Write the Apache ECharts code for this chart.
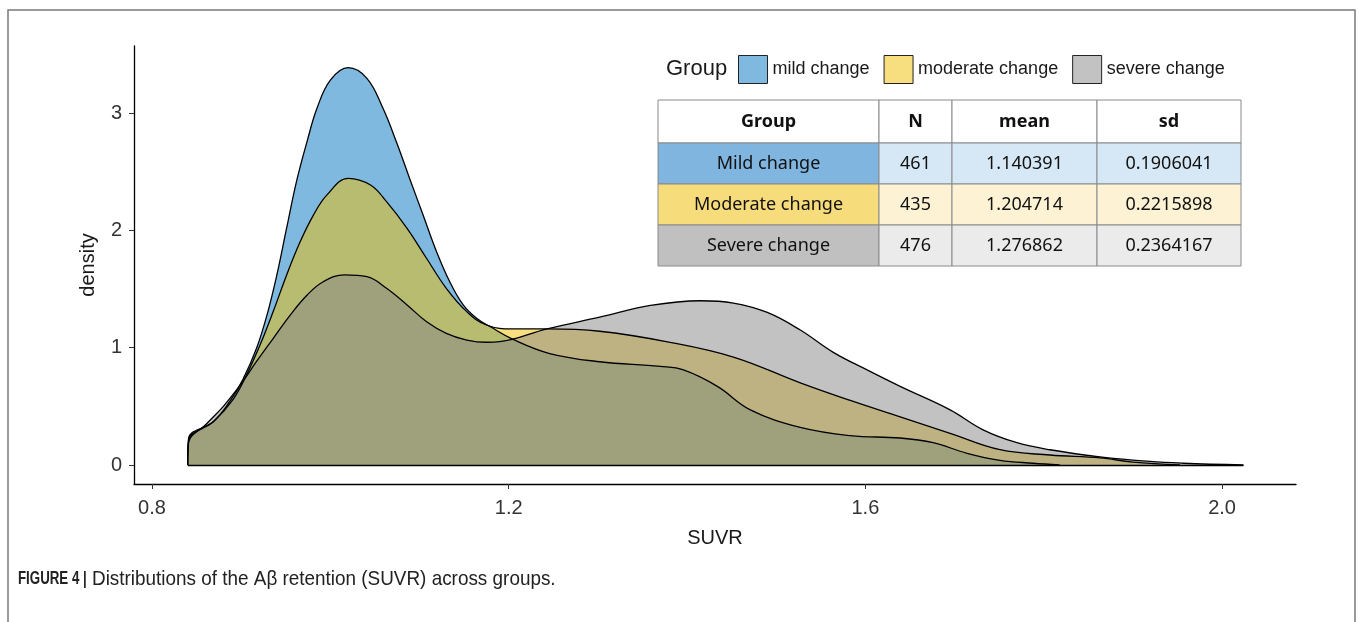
<!DOCTYPE html>
<html>
<head>
    <meta charset="utf-8">
    <title>SUVR density</title>
    <script src="https://cdn.jsdelivr.net/npm/echarts@6/dist/echarts.min.js"></script>
    <style>
        html, body { margin: 0; padding: 0; background: #fff; }
        #main { width: 1360px; height: 622px; }
    </style>
</head>
<body>
<div id="main"></div>
<script>
    // density curves (SUVR, density)
    var mildSuvr = [0.840, 0.841, 0.869, 0.888, 0.902, 0.917, 0.929, 0.940, 0.951, 0.962, 0.974, 0.985, 1.000, 1.020, 1.041, 1.059, 1.074, 1.089, 1.104, 1.119, 1.134, 1.149, 1.164, 1.179, 1.205, 1.246, 1.302, 1.370, 1.396, 1.434, 1.471, 1.527, 1.583, 1.639, 1.676, 1.714, 1.751, 1.788, 1.818];
    var mildDensity = [0, 0.227, 0.37, 0.55, 0.73, 0.99, 1.28, 1.62, 2.02, 2.415, 2.76, 3.04, 3.28, 3.386, 3.295, 3.04, 2.755, 2.44, 2.13, 1.82, 1.56, 1.364, 1.25, 1.18, 1.07, 0.95, 0.88, 0.84, 0.81, 0.67, 0.47, 0.32, 0.25, 0.23, 0.19, 0.10, 0.04, 0.015, 0];

    var modSuvr = [0.840, 0.841, 0.869, 0.891, 0.906, 0.921, 0.936, 0.951, 0.966, 0.981, 0.996, 1.020, 1.045, 1.063, 1.086, 1.108, 1.130, 1.153, 1.175, 1.205, 1.243, 1.302, 1.378, 1.452, 1.527, 1.583, 1.639, 1.695, 1.751, 1.807, 1.863, 1.900, 1.953];
    var modDensity = [0, 0.21, 0.37, 0.56, 0.767, 1.02, 1.31, 1.62, 1.90, 2.13, 2.30, 2.443, 2.386, 2.244, 2.017, 1.76, 1.506, 1.307, 1.193, 1.16, 1.16, 1.14, 1.05, 0.92, 0.70, 0.55, 0.41, 0.27, 0.13, 0.085, 0.06, 0.025, 0];

    var sevSuvr = [0.840, 0.841, 0.861, 0.880, 0.899, 0.917, 0.936, 0.955, 0.974, 0.992, 1.016, 1.041, 1.063, 1.086, 1.108, 1.130, 1.153, 1.175, 1.190, 1.243, 1.302, 1.359, 1.415, 1.452, 1.490, 1.527, 1.564, 1.602, 1.639, 1.695, 1.732, 1.770, 1.807, 1.863, 1.919, 1.956, 2.024];
    var sevDensity = [0, 0.19, 0.35, 0.50, 0.682, 0.88, 1.08, 1.278, 1.449, 1.562, 1.62, 1.605, 1.506, 1.364, 1.221, 1.122, 1.065, 1.046, 1.051, 1.16, 1.26, 1.36, 1.40, 1.38, 1.30, 1.15, 0.96, 0.81, 0.67, 0.47, 0.30, 0.19, 0.13, 0.07, 0.03, 0.015, 0];

    var groupNames = ['mild change', 'moderate change', 'severe change'];
    var xTicks = [0.8, 1.2, 1.6, 2.0];
    var yTicks = [0, 1, 2, 3];

    // summary table
    var tableHeader = ['Group', 'N', 'mean', 'sd'];
    var tableGroups = ['Mild change', 'Moderate change', 'Severe change'];
    var tableN = ['461', '435', '476'];
    var tableMean = ['1.140391', '1.204714', '1.276862'];
    var tableSd = ['0.1906041', '0.2215898', '0.2364167'];

    var baseColors = ['#0073C2', '#EFC000', '#868686'];
    var legendColors = ['rgba(0,115,194,0.5)', 'rgba(239,192,0,0.5)', 'rgba(134,134,134,0.5)'];
    var groupCellColors = ['#7fb5df', '#f7dc7c', '#c0c0c0'];
    var dataCellColors = ['#d6e8f5', '#fdf3d4', '#ebebeb'];

    var FONT = '"Liberation Sans", Arial, sans-serif';

    function pairs(xs, ys) {
        var out = [];
        for (var i = 0; i < xs.length; i++) out.push([xs[i], ys[i]]);
        return out;
    }

    var curves = [pairs(mildSuvr, mildDensity), pairs(modSuvr, modDensity), pairs(sevSuvr, sevDensity)];

    var series = groupNames.map(function (name, i) {
        return {
            name: name,
            type: 'line',
            data: curves[i],
            smooth: 0.4,
            symbol: 'none',
            itemStyle: { color: baseColors[i] },
            lineStyle: { color: '#000', width: 1.3 },
            areaStyle: { color: baseColors[i], opacity: 0.5 },
            silent: true
        };
    });
    // baseline of the density polygons
    series[2].markLine = {
        silent: true,
        symbol: 'none',
        label: { show: false },
        lineStyle: { color: '#000', width: 1.3, type: 'solid' },
        data: [[{ coord: [sevSuvr[0], 0] }, { coord: [sevSuvr[sevSuvr.length - 1], 0] }]]
    };

    // table drawn with graphic elements
    var colX = [658, 879, 952, 1097, 1241];
    var rowY = [100, 143, 184, 225, 266];
    var graphics = [];

    function cell(c, r, fill, txt, bold) {
        graphics.push({
            type: 'rect',
            shape: { x: colX[c], y: rowY[r], width: colX[c + 1] - colX[c], height: rowY[r + 1] - rowY[r] },
            style: { fill: fill, stroke: '#8a8a8a', lineWidth: 1 }
        });
        graphics.push({
            type: 'text',
            style: {
                text: txt,
                x: (colX[c] + colX[c + 1]) / 2,
                y: (rowY[r] + rowY[r + 1]) / 2,
                textAlign: 'center', align: 'center',
                textVerticalAlign: 'middle', verticalAlign: 'middle',
                font: (bold ? 'bold ' : '') + '18px "Noto Sans", "Open Sans", sans-serif',
                fill: '#111'
            }
        });
    }

    for (var c = 0; c < tableHeader.length; c++) cell(c, 0, '#fff', tableHeader[c], true);
    for (var r = 0; r < tableGroups.length; r++) {
        cell(0, r + 1, groupCellColors[r], tableGroups[r], false);
        cell(1, r + 1, dataCellColors[r], tableN[r], false);
        cell(2, r + 1, dataCellColors[r], tableMean[r], false);
        cell(3, r + 1, dataCellColors[r], tableSd[r], false);
    }

    // figure frame, legend title and caption
    graphics.push({
        type: 'rect',
        shape: { x: 8, y: 10, width: 1347, height: 700 },
        style: { fill: 'none', stroke: '#7a7a7a', lineWidth: 1.5 }
    });
    graphics.push({
        type: 'text',
        style: {
            text: 'Group', x: 666, y: 69,
            textVerticalAlign: 'middle', verticalAlign: 'middle',
            font: '22px ' + FONT, fill: '#1a1a1a'
        }
    });
    graphics.push({
        type: 'text',
        x: 18, y: 579, scaleX: 0.7,
        style: {
            text: 'FIGURE 4 |', x: 0, y: 0,
            textVerticalAlign: 'middle', verticalAlign: 'middle',
            font: 'bold 19px ' + FONT, fill: '#222'
        }
    });
    graphics.push({
        type: 'text',
        x: 92, y: 579, scaleX: 0.9,
        style: {
            text: 'Distributions of the A\u03b2 retention (SUVR) across groups.', x: 0, y: 0,
            textVerticalAlign: 'middle', verticalAlign: 'middle',
            font: '21px ' + FONT, fill: '#222'
        }
    });

    var chart = echarts.init(document.getElementById('main'), null, { renderer: 'canvas' });
    chart.setOption({
        animation: false,
        backgroundColor: '#fff',
        grid: { left: 134, right: 64, top: 46, bottom: 138 },
        legend: {
            left: 738,
            top: 55,
            padding: 0,
            itemWidth: 29,
            itemHeight: 28,
            itemGap: 14,
            icon: 'rect',
            selectedMode: false,
            textStyle: { fontSize: 18, fontFamily: FONT, color: '#1a1a1a' },
            data: groupNames.map(function (n, i) {
                return { name: n, itemStyle: { color: legendColors[i], borderColor: '#222', borderWidth: 1 } };
            })
        },
        xAxis: {
            type: 'value',
            min: 0.7798,
            max: 2.0829,
            name: 'SUVR',
            nameLocation: 'middle',
            nameGap: 44,
            nameTextStyle: { fontSize: 20, fontFamily: FONT, color: '#1a1a1a' },
            splitLine: { show: false },
            axisLine: { onZero: false, lineStyle: { color: '#000', width: 1.3 } },
            axisTick: { customValues: xTicks, length: 5, lineStyle: { color: '#333' } },
            axisLabel: {
                customValues: xTicks, margin: 14, fontSize: 20, fontFamily: FONT, color: '#333',
                formatter: function (v) { return v.toFixed(1); }
            }
        },
        yAxis: {
            type: 'value',
            min: -0.162,
            max: 3.571,
            name: 'density',
            nameLocation: 'middle',
            nameGap: 36,
            nameTextStyle: { fontSize: 20, fontFamily: FONT, color: '#1a1a1a' },
            splitLine: { show: false },
            axisLine: { show: true, onZero: false, lineStyle: { color: '#000', width: 1.3 } },
            axisTick: { show: true, customValues: yTicks, length: 5, lineStyle: { color: '#333' } },
            axisLabel: { customValues: yTicks, margin: 12, fontSize: 20, fontFamily: FONT, color: '#333' }
        },
        series: series,
        graphic: graphics
    });
</script>
</body>
</html>
